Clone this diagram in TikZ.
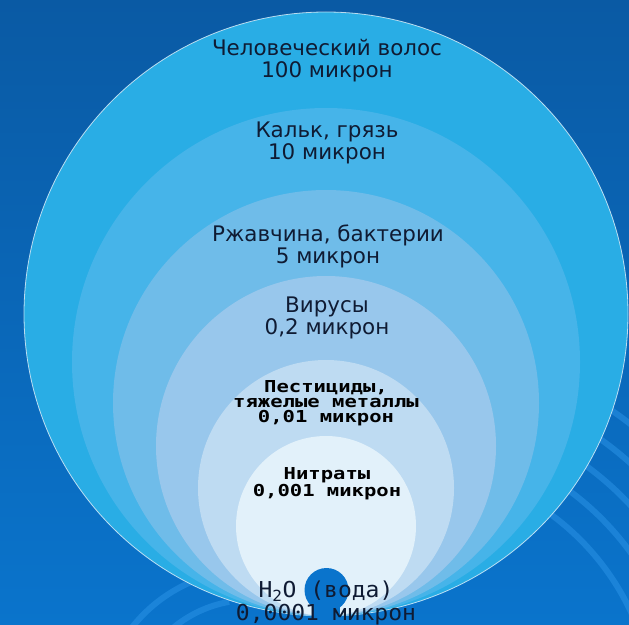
\documentclass[tikz,border=0pt]{standalone}
\usepackage{fontspec}
\setmainfont{DejaVu Sans}
\newfontfamily\pixfont[FakeStretch=1.25]{DejaVu Sans Mono}
\newfontfamily\waterfont[FakeStretch=1.05]{DejaVu Sans Mono}

\definecolor{bgtop}{HTML}{0A5AA4}
\definecolor{bgbot}{HTML}{0A74CC}
\definecolor{swirlc}{HTML}{2C95E8}
\definecolor{layA}{HTML}{29ADE5}
\definecolor{layB}{HTML}{46B4E9}
\definecolor{layC}{HTML}{6FBCE9}
\definecolor{layD}{HTML}{98C7EC}
\definecolor{layE}{HTML}{BEDBF2}
\definecolor{layF}{HTML}{E2F1FA}
\definecolor{txt}{HTML}{0F1B33}

\begin{document}
\begin{tikzpicture}[x=1bp,y=-1bp]
  \useasboundingbox (0,0) rectangle (629,625);
  \begin{scope}
    \clip (0,0) rectangle (629,625);
    \shade[top color=bgtop, bottom color=bgbot] (0,0) rectangle (629,625);
    % ripples in the background
    \begin{scope}[every path/.style={draw=swirlc, line width=6bp, opacity=0.5}]
      \draw (400,720) ++(290:255) arc (290:360:255);
      \draw (400,720) ++(290:285) arc (290:360:285);
      \draw (400,720) ++(290:315) arc (290:360:315);
      \draw (400,720) ++(290:345) arc (290:360:345);
      \draw (400,720) ++(290:375) arc (290:360:375);
      \draw (250,720) ++(200:120) arc (200:260:120);
      \draw (250,720) ++(200:150) arc (200:250:150);
    \end{scope}
    % nested layers, all touching at the bottom
    \fill[layA] (326,314) circle [radius=302];
    \draw[white, line width=0.8bp, opacity=0.7] (326,314) circle [radius=302];
    \fill[layB] (326,362) circle [radius=254];
    \fill[layC] (326,403) circle [radius=213];
    \fill[layD] (326,446) circle [radius=170];
    \fill[layE] (326,488) circle [radius=128];
    \fill[layF] (326,526) circle [radius=90];
    % drop
    \fill[bgbot] (326.5,590) circle [radius=22];
    \fill[bgbot] (313,590) rectangle (340,625);
  \end{scope}
  \begin{scope}[every node/.style={align=center, inner sep=0pt, text=txt}]
    \begin{scope}[every node/.append style={font=\fontsize{21.5}{22}\selectfont}]
      \node (hair) at (327,61) {Человеческий волос\\100 микрон};
      \node (lime) at (327,143) {Кальк, грязь\\10 микрон};
      \node (rust) at (328,246) {Ржавчина, бактерии\\5 микрон};
      \node (virus) at (327,318) {Вирусы\\0,2 микрон};
    \end{scope}
    \begin{scope}[every node/.append style={font=\pixfont\bfseries\fontsize{16.5}{15}\selectfont, text=black}]
      \node (pest) at (326,403) {Пестициды,\\тяжелые металлы\\0,01 микрон};
      \node (nitr) at (327,484) {Нитраты\\0,001 микрон};
    \end{scope}
    \node[font=\waterfont\fontsize{22}{24}\selectfont] (water) at (326,603)
      {H\textsubscript{2}O (вода)\\0,0001 микрон};
  \end{scope}
\end{tikzpicture}
\end{document}
